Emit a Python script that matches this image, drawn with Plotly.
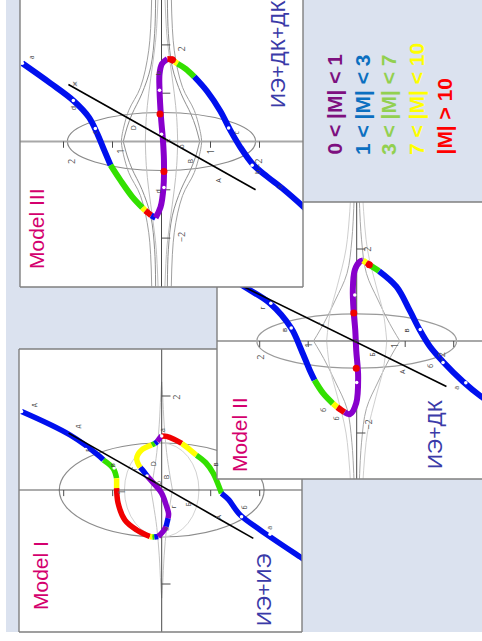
import plotly.graph_objects as go

W, H = 482, 641

# |M| bands (legend text and curve colours)
band_labels = ["0 < |M| < 1", "1 < |M| < 3", "3 < |M| < 7", "7 < |M| < 10", "|M| > 10"]
band_text_colors = ["#7d107f", "#0b6fc0", "#92d050", "#ffff00", "#ff0000"]
band_line_colors = {"p": "#8800cc", "b": "#0010ee", "g": "#33e000", "y": "#ffff00", "r": "#f00000"}

# ---------------- Model III : ИЭ+ДК+ДК ----------------
# u = across the page (right), v = up the page, in axis units
m3_segments = [
    ("b", [-2.84, -2.27, -1.79, -1.48, -1.31, -1.17, -1.04], [1.62, 1.21, 0.84, 0.50, 0.16, -0.18, -0.49]),
    ("g", [-1.04, -0.84, -0.60, -0.39], [-0.49, -0.80, -1.14, -1.37]),
    ("y", [-0.39, -0.33], [-1.37, -1.43]),
    ("r", [-0.33, -0.27, -0.21], [-1.43, -1.48, -1.53]),
    ("b", [-0.21, -0.12], [-1.53, -1.58]),
    ("p", [-0.12, -0.02, 0.04, 0.05, 0.03, -0.01, -0.04, -0.04, 0.01, 0.12],
          [-1.58, -1.36, -0.95, -0.39, 0.02, 0.50, 1.06, 1.40, 1.61, 1.71]),
    ("r", [0.12, 0.20, 0.27], [1.71, 1.70, 1.65]),
    ("y", [0.27, 0.33], [1.65, 1.61]),
    ("g", [0.33, 0.50, 0.67], [1.61, 1.50, 1.34]),
    ("b", [0.67, 0.93, 1.20, 1.40, 1.61, 1.88, 2.16, 2.50, 2.95],
          [1.34, 1.04, 0.63, 0.24, -0.12, -0.49, -0.73, -1.00, -1.40]),
]
m3_line_u = [-1.90, 1.92]
m3_line_v = [1.18, -1.00]
m3_red_u = [-0.03, 0.05, 0.22]
m3_red_v = [0.57, -0.62, 1.69]
m3_dot_u = [-2.84, -1.80, -1.35, 1.37, 1.85, 2.29, 0.00, 0.05, -0.04]
m3_dot_v = [1.62, 0.85, 0.27, 0.28, -0.49, -0.95, 0.15, -0.95, 1.06]
m3_ellipse = [1.92, 0.60]
m3_cusp_v = [0.0, 0.30, 0.57, 0.99, 1.54, 2.24, 3.0]
m3_cusp_w = [0.78, 0.70, 0.60, 0.40, 0.22, 0.14, 0.12]
m3_bell_v = [0.0, 0.16, 0.64, 1.12, 1.89, 3.0]
m3_bell_w = [0.82, 0.80, 0.67, 0.43, 0.26, 0.20]
m3_inner_v = [0.0, 0.5, 1.0, 1.6, 2.2, 3.0]
m3_inner_w = [0.33, 0.31, 0.26, 0.18, 0.11, 0.07]
m3_letters = [("a", -2.78, 1.82), ("ж", -1.90, 1.30), ("d", -1.93, 0.78), ("c", -1.50, 0.27),
              ("D", -0.70, 0.38), ("c", 0.12, 0.12), ("o", 0.40, -0.02), ("B", 0.60, -0.30),
              ("A", 1.17, -0.70), ("c", 1.55, 0.28), ("b", 1.95, -0.55), ("a", 2.40, -0.85),
              ("d", -0.20, -0.95), ("b", -0.20, 1.50)]
m3_ticks = [("2", 0.40, 2.0), ("−2", 0.40, -1.98), ("2", -2.0, -0.33), ("−2", 1.98, -0.33),
            ("1", -1.0, -0.12), ("1", 1.0, -0.12)]

# ---------------- Model II : ИЭ+ДК ----------------
m2_segments = [
    ("b", [-2.62, -2.27, -1.79, -1.35, -1.14, -0.97, -0.87], [1.40, 1.15, 0.82, 0.28, -0.20, -0.63, -0.85]),
    ("g", [-0.87, -0.69, -0.49], [-0.85, -1.14, -1.36]),
    ("y", [-0.49, -0.40], [-1.36, -1.44]),
    ("r", [-0.40, -0.32, -0.25], [-1.44, -1.50, -1.55]),
    ("p", [-0.25, -0.14, -0.01, 0.03, -0.01, -0.03, -0.06, -0.08, -0.04, 0.06, 0.13],
          [-1.55, -1.59, -1.35, -0.78, -0.20, 0.24, 0.60, 1.11, 1.54, 1.72, 1.75]),
    ("y", [0.13, 0.20], [1.75, 1.70]),
    ("r", [0.20, 0.30], [1.70, 1.63]),
    ("g", [0.30, 0.46], [1.63, 1.52]),
    ("b", [0.46, 0.82, 1.09, 1.30, 1.51, 1.78, 2.19, 2.57, 2.70],
          [1.52, 1.18, 0.67, 0.24, -0.12, -0.45, -0.88, -1.21, -1.30]),
]
m2_line_u = [-2.60, 1.85]
m2_line_v = [1.32, -0.99]
m2_red_u = [-0.06, -0.01, 0.26]
m2_red_v = [0.61, -0.59, 1.66]
m2_dot_u = [-1.77, -1.35, 1.31, 1.78, 2.25, -0.04, 0.0]
m2_dot_v = [0.82, 0.28, 0.25, -0.47, -0.91, 1.0, -0.9]
m2_ellipse = [2.06, 0.59]
m2_cusp_v = [0.0, 0.38, 0.89, 1.47, 2.20, 3.2]
m2_cusp_w = [0.89, 0.68, 0.44, 0.20, 0.10, 0.05]
m2_bell_v = [0.0, 0.6, 1.2, 2.0, 3.2]
m2_bell_w = [0.62, 0.55, 0.40, 0.22, 0.12]
m2_letters = [("г", -1.94, 0.72), ("в", -1.48, 0.24), ("Г", -0.73, 0.38), ("в", 1.16, 0.24),
              ("Б", 0.47, -0.30), ("A", 1.09, -0.67), ("б", 1.67, -0.54), ("а", 2.20, -1.02),
              ("б", -0.56, -1.50), ("б", -0.29, -1.68), ("в", 0.10, 0.0)]
m2_ticks = [("2", 0.38, 2.0), ("−2", 0.40, -1.98), ("2", -2.0, -0.35), ("−2", 1.92, -0.35),
            ("1", -1.0, -0.10), ("1", 0.96, -0.10)]

# ---------------- Model I : ИЭ+ИЭ ----------------
m1_segments = [
    ("b", [-2.86, -1.87, -1.26, -1.19], [1.67, 1.17, 0.71, 0.64]),
    ("g", [-1.19, -0.99, -0.92], [0.64, 0.46, 0.25]),
    ("y", [-0.92, -0.92], [0.25, 0.04]),
    ("r", [-0.92, -0.89, -0.75, -0.51, -0.24], [0.04, -0.28, -0.64, -0.85, -0.99]),
    ("y", [-0.24, -0.19], [-0.99, -1.00]),
    ("g", [-0.19, -0.15], [-1.00, -1.00]),
    ("b", [-0.15, -0.07], [-1.00, -0.99]),
    ("p", [-0.07, 0.03, 0.09], [-0.99, -0.88, -0.78]),
    ("b", [0.09, 0.13], [-0.78, -0.60]),
    ("p", [0.13, 0.14, 0.10, 0.00, -0.14, -0.30], [-0.60, -0.50, -0.35, -0.07, 0.11, 0.30]),
    ("b", [-0.30, -0.37, -0.44], [0.30, 0.40, 0.48]),
    ("y", [-0.44, -0.51, -0.41, -0.20], [0.48, 0.67, 0.85, 0.96]),
    ("g", [-0.20, -0.14], [0.96, 0.99]),
    ("b", [-0.14, -0.09], [0.99, 1.03]),
    ("p", [-0.09, -0.05, 0.00], [1.03, 1.09, 1.15]),
    ("r", [0.00, 0.10, 0.25, 0.41], [1.15, 1.14, 1.08, 0.99]),
    ("y", [0.41, 0.55, 0.71], [0.99, 0.88, 0.74]),
    ("g", [0.71, 0.90, 1.05, 1.22], [0.74, 0.58, 0.36, -0.07]),
    ("b", [1.22, 1.36, 1.60, 2.01, 2.82, 2.95], [-0.07, -0.20, -0.53, -0.85, -1.42, -1.51]),
]
m1_line_u = [-1.90, 1.87]
m1_line_v = [1.21, -1.03]
m1_dot_u = [-2.86, -1.55, -0.97, 1.63, 2.21, -0.30, 0.00]
m1_dot_v = [1.67, 0.86, 0.47, -0.57, -0.94, 0.30, 1.15]
m1_ellipse = [2.09, 1.00]
m1_oval = [0.76, 1.00]
m1_cusp_v = [0.0, 0.3, 0.8, 1.4, 2.0, 2.3]
m1_cusp_w = [0.22, 0.17, 0.10, 0.05, 0.02, 0.0]
m1_letters = [("д", -2.76, 1.80), ("д", -1.84, 1.35), ("г", -1.64, 0.78), ("в", -1.12, 0.45),
              ("Г", -0.68, 0.37), ("D", -0.31, 0.45), ("б", -0.20, 0.07), ("B", 0.10, 0.19),
              ("Б", 0.54, -0.39), ("A", 1.16, -0.67), ("б", 1.70, -0.46), ("а", 2.21, -0.89),
              ("г", 0.24, -0.43), ("а", 0.10, -0.92), ("в", 1.09, 0.46), ("а", -0.12, 1.20)]
m1_ticks = [("2", 0.31, 1.98), ("1", -1.0, -0.15)]

# page geometry (pixels): visible rectangles of each panel, origin and px per unit
panels = [
    dict(name="I", rects=[(19, 349, 217, 632), (217, 479, 302, 632)], origin=(161.7, 490), scale=(49, 47),
         segs=m1_segments, lu=m1_line_u, lv=m1_line_v, du=m1_dot_u, dv=m1_dot_v, ru=[], rv=[],
         ellipse=m1_ellipse, ell_color="#8c8c8c", profiles=[(m1_cusp_v, m1_cusp_w, "#c4c4c4")],
         oval=m1_oval, letters=m1_letters, ticks=m1_ticks, hcol="#5a5a5a", hw=1.2, width=5.5,
         vticks=[2, -2], uticks=[-2, -1, 1, 2]),
    dict(name="II", rects=[(303, 202, 482, 479), (217, 287, 303, 479)], origin=(356.7, 341), scale=(48.5, 46),
         segs=m2_segments, lu=m2_line_u, lv=m2_line_v, du=m2_dot_u, dv=m2_dot_v, ru=m2_red_u, rv=m2_red_v,
         ellipse=m2_ellipse, ell_color="#9a9a9a",
         profiles=[(m2_cusp_v, m2_cusp_w, "#a8a8a8"), (m2_bell_v, m2_bell_w, "#cfcfcf")],
         oval=None, letters=m2_letters, ticks=m2_ticks, hcol="#a8a8a8", hw=2, width=6,
         vticks=[2, -2], uticks=[-2, -1, 1, 2]),
    dict(name="III", rects=[(20, 0, 303, 287)], origin=(161.5, 141.5), scale=(49, 48.3),
         segs=m3_segments, lu=m3_line_u, lv=m3_line_v, du=m3_dot_u, dv=m3_dot_v, ru=m3_red_u, rv=m3_red_v,
         ellipse=m3_ellipse, ell_color="#8a8a8a",
         profiles=[(m3_cusp_v, m3_cusp_w, "#8e8e8e"), (m3_bell_v, m3_bell_w, "#a0a0a0"),
                   (m3_inner_v, m3_inner_w, "#c0c0c0")],
         oval=None, letters=m3_letters, ticks=m3_ticks, hcol="#a8a8a8", hw=2, width=6,
         vticks=[2, 1, -1, -2], uticks=[-2, -1, 1, 2]),
]

fig = go.Figure()
shapes = []
annotations = []
axes = {}


def branches(pv, pw):
    us, vs = [], []
    for su in (1, -1):
        for sv in (1, -1):
            us += [su * w for w in pw] + [None]
            vs += [sv * v for v in pv] + [None]
    return us, vs


def to_paper(p, u, v):
    ox, oy = p["origin"]
    sx, sy = p["scale"]
    return (ox + u * sx) / W, 1 - (oy - v * sy) / H


k = 0
for p in panels:
    ox, oy = p["origin"]
    sx, sy = p["scale"]
    for (x0, y0, x1, y1) in p["rects"]:
        k += 1
        xa = "x" if k == 1 else f"x{k}"
        ya = "y" if k == 1 else f"y{k}"
        axes[f"xaxis{'' if k == 1 else k}"] = dict(domain=[x0 / W, x1 / W], range=[(x0 - ox) / sx, (x1 - ox) / sx],
                                                   visible=False, anchor=ya, fixedrange=True)
        axes[f"yaxis{'' if k == 1 else k}"] = dict(domain=[1 - y1 / H, 1 - y0 / H], range=[(oy - y1) / sy, (oy - y0) / sy],
                                                   visible=False, anchor=xa, fixedrange=True)

        def add(**kw):
            fig.add_trace(go.Scatter(xaxis=xa, yaxis=ya, hoverinfo="skip", showlegend=False, **kw))

        # ellipse and oval
        a, b = p["ellipse"]
        shapes.append(dict(type="circle", xref=xa, yref=ya, x0=-a, x1=a, y0=-b, y1=b,
                           line=dict(color=p["ell_color"], width=1.2), layer="below"))
        if p["oval"]:
            a, b = p["oval"]
            shapes.append(dict(type="circle", xref=xa, yref=ya, x0=-a, x1=a, y0=-b, y1=b,
                               line=dict(color="#d2d2d2", width=1), layer="below"))
        # cusped guide curves
        for pv, pw, col in p["profiles"]:
            us, vs = branches(pv, pw)
            add(x=us, y=vs, mode="lines", line=dict(color=col, width=1, shape="spline"))
        # axes
        add(x=[-5, 5], y=[0, 0], mode="lines", line=dict(color=p["hcol"], width=p["hw"]))
        add(x=[0, 0], y=[-5, 5], mode="lines", line=dict(color="#4a4a4a", width=1))
        tu, tv = [], []
        for t in p["vticks"]:
            tu += [0, 0.18, None]
            tv += [t, t, None]
        for t in p["uticks"]:
            tu += [t, t, None]
            tv += [0, -0.13, None]
        add(x=tu, y=tv, mode="lines", line=dict(color="#4a4a4a", width=1))
        # colour-coded curve
        for band, u, v in p["segs"]:
            add(x=u, y=v, mode="lines", line=dict(color=band_line_colors[band], width=p["width"], shape="spline"))
        if p["ru"]:
            add(x=p["ru"], y=p["rv"], mode="markers", marker=dict(color=band_line_colors["r"], size=7))
        add(x=p["du"], y=p["dv"], mode="markers", marker=dict(color="white", size=3.5))
        # straight line
        add(x=p["lu"], y=p["lv"], mode="lines", line=dict(color="black", width=1.6))

    for txt, u, v in p["letters"]:
        xp, yp = to_paper(p, u, v)
        annotations.append(dict(x=xp, y=yp, xref="paper", yref="paper", text=txt, showarrow=False,
                                textangle=-90, font=dict(size=7, color="#444444")))
    for txt, u, v in p["ticks"]:
        xp, yp = to_paper(p, u, v)
        annotations.append(dict(x=xp, y=yp, xref="paper", yref="paper", text=txt, showarrow=False,
                                textangle=-90, font=dict(size=9, color="#555555")))

# white strips outside the slide, then panel frames
shapes.append(dict(type="rect", xref="paper", yref="paper", x0=0, x1=6 / W, y0=0, y1=1,
                   fillcolor="white", line=dict(width=0)))
shapes.append(dict(type="rect", xref="paper", yref="paper", x0=0, x1=1, y0=0, y1=1 - 632 / H,
                   fillcolor="white", line=dict(width=0)))
frame_lines = [
    (20, 0, 20, 287), (20, 287, 303, 287), (303, 0, 303, 287),
    (303, 202, 482, 202), (217, 287, 217, 479), (217, 479, 482, 479),
    (19, 349, 19, 632), (19, 349, 217, 349), (302, 479, 302, 632), (19, 632, 302, 632),
]
for x0, y0, x1, y1 in frame_lines:
    shapes.append(dict(type="line", xref="paper", yref="paper", x0=x0 / W, x1=x1 / W,
                       y0=1 - y0 / H, y1=1 - y1 / H, line=dict(color="#7f7f7f", width=1.4)))

# panel titles
titles = [("Model III", 36, 229, "#d4006e", "middle"), ("ИЭ+ДК+ДК", 278, 110, "#3a3aa8", "bottom"),
          ("Model II", 239, 435, "#d4006e", "middle"), ("ИЭ+ДК", 435, 434, "#3a3aa8", "middle"),
          ("Model I", 40, 576, "#d4006e", "middle"), ("ИЭ+ИЭ", 263, 590, "#3a3aa8", "middle")]
for txt, x, y, col, ya in titles:
    annotations.append(dict(x=x / W, y=1 - y / H, xref="paper", yref="paper", text=txt, showarrow=False,
                            textangle=-90, xanchor="center", yanchor=ya,
                            font=dict(size=21, color=col, family="Liberation Sans, Arial")))

# legend of |M| bands
legend_x = [334, 362, 388, 416, 444]
for txt, col, x in zip(band_labels, band_text_colors, legend_x):
    annotations.append(dict(x=x / W, y=1 - 157 / H, xref="paper", yref="paper", text="<b>" + txt + "</b>",
                            showarrow=False, textangle=-90, xanchor="center", yanchor="bottom",
                            font=dict(size=21, color=col, family="Liberation Sans, Arial")))

fig.update_layout(width=W, height=H, margin=dict(l=0, r=0, t=0, b=0), paper_bgcolor="#dbe2ef",
                  plot_bgcolor="white", showlegend=False, shapes=shapes, annotations=annotations, **axes)
fig.write_html("out.html", config={"displayModeBar": False},
               post_script="document.body.style.margin='0px';")
